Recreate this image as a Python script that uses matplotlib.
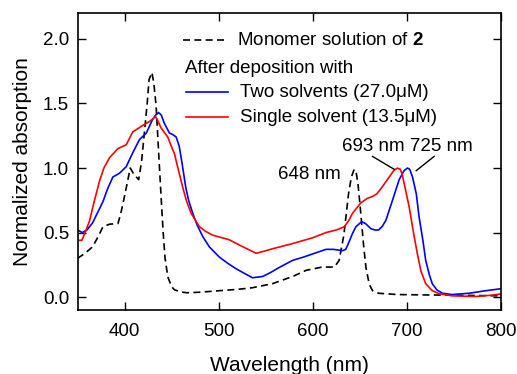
import matplotlib
matplotlib.use("Agg")
import matplotlib.pyplot as plt

plt.rcParams['font.family'] = ['Liberation Sans', 'DejaVu Sans']
plt.rcParams['mathtext.fontset'] = 'custom'
plt.rcParams['mathtext.rm'] = 'Liberation Sans'
plt.rcParams['mathtext.bf'] = 'Liberation Sans:bold'

# Monomer solution of 2 (dashed black)
mono_x = [350, 358, 366, 372, 377, 384, 393, 396, 399, 402, 406, 410, 415, 418, 421,
          424, 426, 429, 431, 433.5, 435, 437, 439, 441, 443, 446, 450, 453, 460, 466,
          480, 501, 520, 536, 557, 579, 593, 610, 623, 628, 633, 638, 641, 644, 646,
          648, 651, 654, 656.5, 660, 663.5, 670, 690, 720, 750, 780, 800]
mono_y = [0.30, 0.34, 0.39, 0.47, 0.545, 0.565, 0.57, 0.65, 0.75, 0.855, 1.00, 0.95, 0.91, 1.05, 1.27,
          1.50, 1.685, 1.74, 1.66, 1.48, 1.28, 1.01, 0.75, 0.50, 0.30, 0.155, 0.08, 0.057, 0.04, 0.034,
          0.038, 0.05, 0.06, 0.073, 0.104, 0.161, 0.208, 0.233, 0.233, 0.285, 0.48, 0.80, 0.93, 0.99, 0.97,
          0.88, 0.65, 0.40, 0.23, 0.10, 0.05, 0.03, 0.02, 0.017, 0.015, 0.012, 0.01]

# After deposition: two solvents (blue)
two_x = [350, 355, 360, 366, 371, 377, 382, 387.5, 394.6, 401.7, 408.8, 415.8, 423, 430, 433,
         436, 439, 442, 447.7, 451, 454.8, 458, 461, 465, 468, 472.4, 477, 483, 490, 500.7,
         510, 518.5, 527, 536, 546.7, 555, 564.4, 578.6, 590, 600, 614, 622, 631.6, 635, 638.7,
         642, 645.8, 652, 656, 661.8, 666, 670, 674, 677.7, 684.7, 691.8, 697, 700.7, 703, 706,
         710, 713, 717, 720, 724, 727, 732, 738, 748, 766, 784, 800]
two_y = [0.52, 0.50, 0.52, 0.575, 0.65, 0.74, 0.84, 0.93, 0.96, 1.01, 1.12, 1.22, 1.27, 1.38, 1.41,
         1.43, 1.41, 1.35, 1.27, 1.26, 1.24, 1.17, 1.04, 0.85, 0.75, 0.65, 0.56, 0.47, 0.39, 0.31,
         0.26, 0.22, 0.185, 0.15, 0.16, 0.19, 0.23, 0.285, 0.31, 0.335, 0.37, 0.37, 0.36, 0.37, 0.43,
         0.49, 0.545, 0.585, 0.57, 0.53, 0.52, 0.52, 0.55, 0.595, 0.75, 0.91, 0.98, 1.0, 0.99, 0.93,
         0.80, 0.62, 0.44, 0.285, 0.17, 0.104, 0.055, 0.03, 0.02, 0.03, 0.05, 0.065]

# After deposition: single solvent (red)
one_x = [350, 354.6, 358, 362.7, 368, 373.4, 378, 384, 392.8, 401.7, 408.7, 419.3, 426.4, 430, 432.8,
         435, 438.8, 445.9, 449, 453, 457, 461.8, 466, 470.7, 479.5, 486, 493.6, 511, 525.6, 539.8,
         548, 557.4, 578.6, 600, 614, 625, 633.4, 638, 642.3, 651, 658, 663.5, 668, 672.4, 681.2,
         686, 690, 693, 695, 698, 702.4, 707, 711.3, 715, 720, 727, 734.3, 748, 773, 790, 800]
one_y = [0.44, 0.44, 0.50, 0.59, 0.75, 0.90, 1.00, 1.08, 1.15, 1.18, 1.28, 1.33, 1.36, 1.38, 1.40,
         1.37, 1.31, 1.24, 1.18, 1.11, 0.99, 0.85, 0.74, 0.65, 0.545, 0.51, 0.48, 0.445, 0.39, 0.34,
         0.355, 0.375, 0.415, 0.46, 0.50, 0.52, 0.545, 0.59, 0.65, 0.73, 0.765, 0.78, 0.80, 0.84, 0.93,
         0.98, 1.0, 0.99, 0.95, 0.85, 0.70, 0.50, 0.33, 0.20, 0.104, 0.05, 0.027, 0.01, 0.005, 0.015, 0.025]

labels = ["Monomer solution of $\\mathbf{2}$", "After deposition with",
          "Two solvents (27.0\u03bcM)", "Single solvent (13.5\u03bcM)"]

fig = plt.figure(figsize=(5.17, 3.74), dpi=100)
ax = fig.add_axes([0.150, 0.171, 0.819, 0.794])

dash = (0, (4.2, 2.6))
ax.plot(mono_x, mono_y, color='black', lw=1.2, ls=dash)
ax.plot(two_x, two_y, color='#0000ff', lw=1.2)
ax.plot(one_x, one_y, color='#ff0000', lw=1.2)

ax.set_xlim(350, 800)
ax.set_ylim(-0.1, 2.2)
ax.set_xticks([400, 500, 600, 700, 800])
ax.set_yticks([0.0, 0.5, 1.0, 1.5, 2.0])
ax.set_yticklabels(['0.0', '0.5', '1.0', '1.5', '2.0'])
ax.tick_params(direction='in', length=6, width=1.0, top=True, right=True,
               labelsize=13.5)
ax.tick_params(axis='x', pad=9)
ax.tick_params(axis='y', pad=6)
for s in ax.spines.values():
    s.set_linewidth(1.2)
ax.set_xlabel("Wavelength (nm)", fontsize=15, labelpad=12)
ax.set_ylabel("Normalized absorption", fontsize=15, labelpad=8)

# legend drawn manually
fs = 13.5
ax.plot([0.249, 0.353], [0.909, 0.909], transform=ax.transAxes, color='black', lw=1.2, ls=dash)
ax.text(0.377, 0.909, labels[0], transform=ax.transAxes, fontsize=fs, va='center', ha='left')
ax.text(0.254, 0.815, labels[1], transform=ax.transAxes, fontsize=fs, va='center', ha='left')
ax.plot([0.255, 0.355], [0.734, 0.734], transform=ax.transAxes, color='#0000ff', lw=1.2)
ax.text(0.384, 0.734, labels[2], transform=ax.transAxes, fontsize=fs, va='center', ha='left')
ax.plot([0.255, 0.355], [0.650, 0.650], transform=ax.transAxes, color='#ff0000', lw=1.2)
ax.text(0.384, 0.650, labels[3], transform=ax.transAxes, fontsize=fs, va='center', ha='left')

# peak annotations
ax.text(630, 0.95, "648 nm", fontsize=fs, ha='right', va='center')
ax.text(631, 1.17, "693 nm 725 nm", fontsize=fs, ha='left', va='center')
ax.plot([663.5, 686.5], [1.09, 0.99], color='black', lw=1.0)
ax.plot([729, 710], [1.09, 0.98], color='black', lw=1.0)

fig.savefig("out.png", dpi=100)
